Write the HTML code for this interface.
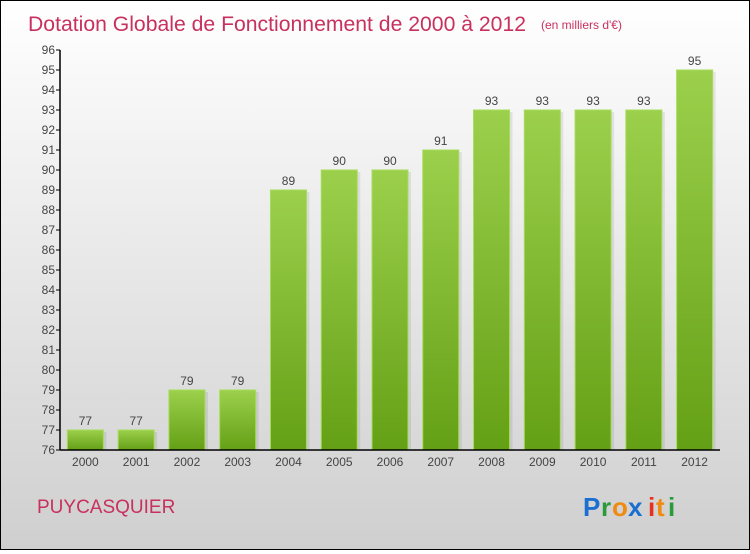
<!DOCTYPE html>
<html><head><meta charset="utf-8"><style>
html,body{margin:0;padding:0}
body{width:750px;height:550px;overflow:hidden;font-family:"Liberation Sans",sans-serif}
#wrap{position:absolute;left:0;top:0;width:748px;height:548px;border:1px solid #000;background:linear-gradient(#fff,#cfcfcf)}
</style></head><body>
<div id="wrap">
<svg id="chart" width="748" height="548">
<defs>
<linearGradient id="bg" x1="0" y1="0" x2="0" y2="1"><stop offset="0" stop-color="#9cd04c"/><stop offset="1" stop-color="#64a016"/></linearGradient>
</defs>
<text x="27" y="30" font-size="21" fill="#c8305f" textLength="498" lengthAdjust="spacingAndGlyphs">Dotation Globale de Fonctionnement de 2000 à 2012</text>
<text x="540" y="28" font-size="12" fill="#c8305f">(en milliers d'€)</text>
<text x="36" y="512" font-size="19" fill="#c8305f">PUYCASQUIER</text>
<g font-size="26" font-weight="bold">
<text x="582" y="515" fill="#1a6fd0">P</text><text x="600" y="515" fill="#2a9a3a">r</text><text x="611" y="515" fill="#f08a10">o</text><text x="627" y="515" fill="#1a6fd0">x</text><text x="647" y="515" fill="#e83020">i</text><text x="655" y="515" fill="#f08a10">t</text><text x="667" y="515" fill="#2a9a3a">i</text>
</g>
<g id="bars"></g><g id="axes"></g>
</svg>
</div>
<script>
const years=["2000","2001","2002","2003","2004","2005","2006","2007","2008","2009","2010","2011","2012"];
const values=[77,77,79,79,89,90,90,91,93,93,93,93,95];
const yTicks=[76,77,78,79,80,81,82,83,84,85,86,87,88,89,90,91,92,93,94,95,96];
const NS="http://www.w3.org/2000/svg";
const x0=59,x1=719,yMin=76,yMax=96,plotTop=49,plotBot=449;
const yS=v=>plotBot-(v-yMin)/(yMax-yMin)*(plotBot-plotTop);
const step=(x1-x0)/years.length;
const xc=i=>x0+step*(i+0.5);
function mk(t,a,p){const e=document.createElementNS(NS,t);for(const k in a)e.setAttribute(k,a[k]);p.appendChild(e);return e;}
const bars=document.getElementById('bars'),axes=document.getElementById('axes');
values.forEach((v,i)=>{
 const w=36,x=xc(i)-w/2;
 mk('rect',{x:x+3,y:yS(v)+2,width:w,height:plotBot-yS(v)-2,fill:'#000',opacity:0.08},bars);
 const r=mk('rect',{x:x,y:yS(v),width:w,height:plotBot-yS(v),fill:'url(#bg)',stroke:'#a6dc5a','stroke-width':1},bars);
 
 
 const t=mk('text',{x:xc(i),y:yS(v)-5,'text-anchor':'middle','font-size':12,fill:'#444'},bars);
 t.textContent=v;
 
 
 const xl=mk('text',{x:xc(i),y:plotBot+16,'text-anchor':'middle','font-size':12,fill:'#444'},axes);
 xl.textContent=years[i];
 
 
});
mk('line',{x1:x0,y1:plotTop,x2:x0,y2:plotBot,stroke:'#000','stroke-width':1.5},axes);
mk('line',{x1:x0,y1:plotBot,x2:x1,y2:plotBot,stroke:'#000','stroke-width':1.5},axes);
yTicks.forEach(v=>{
 mk('line',{x1:x0-4,y1:yS(v),x2:x0,y2:yS(v),stroke:'#000'},axes);
 const t=mk('text',{x:x0-5,y:yS(v)+4,'text-anchor':'end','font-size':12,fill:'#444'},axes);
 t.textContent=v;
 
 
});
</script>
</body></html>
